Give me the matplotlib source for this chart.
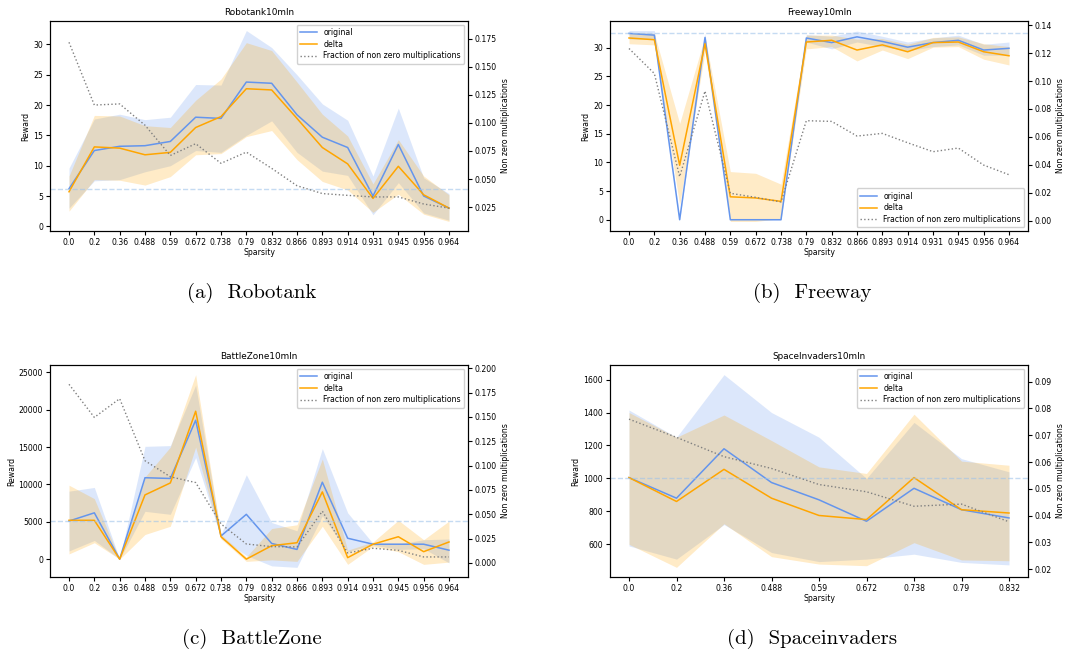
import numpy as np
import matplotlib
matplotlib.use("Agg")
import matplotlib.pyplot as plt
from matplotlib.ticker import MultipleLocator

# sparsity levels (categorical x axis)
sparsity_long = ["0.0", "0.2", "0.36", "0.488", "0.59", "0.672", "0.738", "0.79",
                 "0.832", "0.866", "0.893", "0.914", "0.931", "0.945", "0.956", "0.964"]
sparsity_short = sparsity_long[:9]

# Robotank
robotank_orig = [6.2, 12.5, 13.2, 13.3, 14.0, 18.0, 17.8, 23.8, 23.6, 18.4, 14.7, 13.0, 5.0, 13.5, 5.0, 3.0]
robotank_orig_hi = [9.6, 17.7, 18.5, 17.6, 18.0, 23.4, 23.3, 32.3, 29.5, 25.0, 20.2, 17.5, 8.3, 19.5, 8.0, 5.4]
robotank_orig_lo = [3.0, 7.5, 7.7, 9.0, 10.0, 12.5, 12.2, 15.0, 17.4, 12.2, 9.1, 8.4, 1.9, 7.2, 2.2, 1.0]
robotank_delta = [5.7, 13.1, 12.9, 11.8, 12.2, 16.3, 18.1, 22.7, 22.5, 17.8, 13.0, 10.3, 4.6, 9.9, 5.2, 3.0]
robotank_delta_hi = [8.3, 18.3, 18.2, 16.6, 16.3, 20.8, 24.3, 30.3, 29.0, 23.8, 18.5, 14.9, 7.0, 14.3, 8.3, 5.2]
robotank_delta_lo = [2.5, 7.7, 7.6, 6.8, 8.2, 11.8, 12.0, 14.8, 15.8, 11.0, 7.4, 6.0, 2.3, 5.3, 2.0, 0.8]
robotank_frac = [0.172, 0.116, 0.117, 0.098, 0.071, 0.0815, 0.064, 0.074, 0.0595, 0.044, 0.037,
                 0.0354, 0.034, 0.034, 0.0277, 0.024]

# Freeway
freeway_orig = [32.5, 32.2, 0.0, 31.8, 0.0, 0.0, 0.0, 31.7, 30.9, 31.9, 31.1, 30.1, 30.9, 31.3, 29.6, 29.9]
freeway_orig_hi = [33.0, 33.0, 0.3, 32.5, 0.1, 0.1, 0.1, 32.3, 32.0, 32.9, 32.0, 31.0, 31.7, 32.2, 30.6, 31.0]
freeway_orig_lo = [31.5, 31.5, 0.0, 31.0, 0.0, 0.0, 0.0, 31.0, 29.8, 31.0, 30.2, 29.5, 30.2, 30.5, 28.7, 28.7]
freeway_delta = [31.7, 31.4, 9.5, 30.7, 4.0, 3.8, 3.2, 31.0, 31.3, 29.6, 30.5, 29.3, 30.9, 31.0, 29.3, 28.6]
freeway_delta_hi = [32.7, 32.5, 16.8, 32.0, 8.4, 8.1, 6.2, 32.2, 32.2, 31.5, 31.6, 30.6, 31.8, 31.9, 30.7, 30.2]
freeway_delta_lo = [30.7, 30.5, 2.6, 29.3, -0.3, -0.3, 0.2, 29.8, 30.2, 27.7, 29.6, 28.1, 30.1, 30.2, 28.0, 27.0]
freeway_frac = [0.1233, 0.1054, 0.0315, 0.0928, 0.0196, 0.0167, 0.0134, 0.0716, 0.0711, 0.0606,
                0.0625, 0.0558, 0.0494, 0.052, 0.0398, 0.0329]

# BattleZone
battle_orig = [5100, 6200, 0, 10900, 10800, 18600, 3100, 6000, 2100, 1300, 10300, 2800, 2000, 2000, 2000, 1200]
battle_orig_hi = [9100, 9600, 0, 15100, 15200, 23300, 3300, 11300, 4900, 3800, 14800, 6200, 2100, 2000, 2600, 2700]
battle_orig_lo = [1100, 2500, 0, 6400, 6000, 13600, 2800, 500, -900, -1100, 5800, 1000, 1900, 1300, 1400, -500]
battle_delta = [5200, 5200, 0, 8600, 10200, 19800, 3000, 0, 1800, 2200, 9000, 200, 2000, 3000, 1000, 2300]
battle_delta_hi = [9900, 8100, 0, 11000, 15000, 24700, 3300, 300, 4100, 4600, 13400, 1200, 2300, 5200, 2600, 5100]
battle_delta_lo = [700, 2200, 0, 3300, 4400, 15000, 2700, -300, -100, -300, 4400, -700, 1700, 1000, -700, -400]
battle_frac = [0.1835, 0.1495, 0.1687, 0.105, 0.0885, 0.0826, 0.0401, 0.0195, 0.0168, 0.0165,
               0.0532, 0.0103, 0.0151, 0.013, 0.0062, 0.0062]

# SpaceInvaders
space_orig = [1005, 880, 1180, 975, 870, 740, 940, 810, 760]
space_orig_hi = [1415, 1250, 1630, 1400, 1250, 1000, 1340, 1120, 1040]
space_orig_lo = [590, 510, 720, 550, 495, 510, 540, 490, 475]
space_delta = [1005, 860, 1055, 880, 775, 750, 1005, 810, 790]
space_delta_hi = [1400, 1250, 1385, 1230, 1070, 1030, 1390, 1105, 1080]
space_delta_lo = [600, 460, 725, 525, 480, 470, 610, 505, 500]
space_frac = [0.076, 0.0692, 0.062, 0.0576, 0.0516, 0.0489, 0.0435, 0.0443, 0.0377]

panels = [
    dict(title="Robotank10mln", caption="(a)  Robotank", labels=sparsity_long,
         orig=(robotank_orig, robotank_orig_lo, robotank_orig_hi),
         delta=(robotank_delta, robotank_delta_lo, robotank_delta_hi),
         frac=robotank_frac, rlim=(0.0036, 0.191), rstep=0.025, legloc="upper right",
         rect=[50, 21, 418, 210]),
    dict(title="Freeway10mln", caption="(b)  Freeway", labels=sparsity_long,
         orig=(freeway_orig, freeway_orig_lo, freeway_orig_hi),
         delta=(freeway_delta, freeway_delta_lo, freeway_delta_hi),
         frac=freeway_frac, rlim=(-0.0074, 0.143), rstep=0.02, legloc="lower right",
         rect=[610, 21, 418, 210]),
    dict(title="BattleZone10mln", caption="(c)  BattleZone", labels=sparsity_long,
         orig=(battle_orig, battle_orig_lo, battle_orig_hi),
         delta=(battle_delta, battle_delta_lo, battle_delta_hi),
         frac=battle_frac, rlim=(-0.0144, 0.2033), rstep=0.025, legloc="upper right",
         rect=[50, 365, 418, 212]),
    dict(title="SpaceInvaders10mln", caption="(d)  Spaceinvaders", labels=sparsity_short,
         orig=(space_orig, space_orig_lo, space_orig_hi),
         delta=(space_delta, space_delta_lo, space_delta_hi),
         frac=space_frac, rlim=(0.0171, 0.0962), rstep=0.01, legloc="upper right",
         rect=[610, 365, 418, 212]),
]

W, H = 1081, 651
fig = plt.figure(figsize=(W / 100, H / 100), dpi=100)

fs = 5.6
for p in panels:
    l, t, w, h = p["rect"]
    ax = fig.add_axes([l / W, (H - t - h) / H, w / W, h / H])
    x = np.arange(len(p["labels"]))
    m, lo, hi = p["orig"]
    ax.plot(x, m, color="cornflowerblue", lw=1.1, label="original")
    ax.fill_between(x, lo, hi, color="cornflowerblue", alpha=0.22, lw=0)
    m2, lo2, hi2 = p["delta"]
    ax.plot(x, m2, color="orange", lw=1.1, label="delta")
    ax.fill_between(x, lo2, hi2, color="orange", alpha=0.22, lw=0)
    ax.axhline(m[0], color="#9fc3ea", ls="--", lw=1, alpha=0.6)
    ax.set_xticks(x)
    ax.set_xticklabels(p["labels"])
    ax.set_xlabel("Sparsity", fontsize=fs, labelpad=1)
    ax.set_ylabel("Reward", fontsize=fs, labelpad=2)
    ax.set_title(p["title"], fontsize=6.4, pad=4)
    ax.tick_params(labelsize=fs, length=3, pad=2)

    ax2 = ax.twinx()
    ax2.plot(x, p["frac"], color="gray", ls=":", lw=1, label="Fraction of non zero multiplications")
    ax2.set_ylim(*p["rlim"])
    ax2.yaxis.set_major_locator(MultipleLocator(p["rstep"]))
    ax2.set_ylabel("Non zero multiplications", fontsize=fs, labelpad=3)
    ax2.tick_params(labelsize=fs, length=3, pad=2)

    h1, l1 = ax.get_legend_handles_labels()
    h2, l2 = ax2.get_legend_handles_labels()
    ax2.legend(h1 + h2, l1 + l2, loc=p["legloc"], fontsize=fs, framealpha=0.9,
               borderpad=0.4, labelspacing=0.35, handlelength=2.2)

    fig.text((l + w / 2 - 7) / W, 1 - (t + h + 62) / H, p["caption"], ha="center", va="center",
             fontsize=15, family="cmr10")

fig.savefig("out.png", dpi=100)
